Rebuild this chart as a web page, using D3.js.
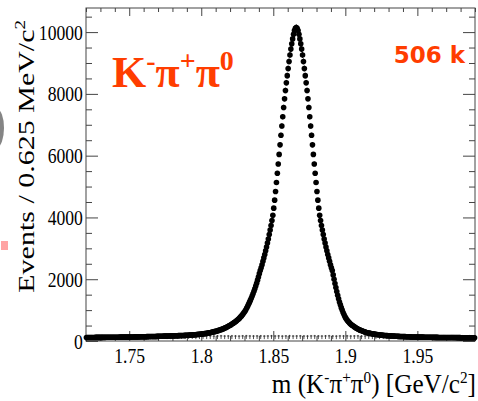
<!DOCTYPE html>
<html><head><meta charset="utf-8">
<script src="https://cdn.jsdelivr.net/npm/d3@7"></script>
<style>body{margin:0;background:#fff} svg{display:block}</style>
</head><body><svg id="c" width="478" height="401"></svg>
<script>
// ---- data ----
const massRange = [1.72, 1.99];
const binWidth = 0.000625; // GeV (0.625 MeV)
// counts per bin, low-mass side up to the bin before the peak
const countsLow = [113,113,114,114,114,114,115,115,115,115,116,116,116,116,117,117,117,117,118,118,118,118,119,119,119,120,120,120,121,121,121,122,122,122,123,123,123,124,124,124,125,
125,125,126,126,127,127,128,128,129,129,130,131,131,132,133,133,134,135,135,136,137,137,138,139,139,140,141,141,142,143,143,144,
144,145,146,147,148,149,150,151,152,153,154,155,156,157,158,159,160,161,162,163,164,165,166,167,168,169,170,171,172,173,174,175,
176,177,179,180,182,183,185,186,188,190,192,194,196,198,200,202,
204,207,210,213,216,219,222,226,230,234,238,242,247,252,257,263,268,275,281,288,295,302,310,318,326,335,344,354,364,375,386,398,410,424,438,452,468,485,500,518,535,555,575,595,615,638,660,685,710,740,775,805,840,880,920,965,1010,1065,1125,1190,1250,1315,1380,1455,1530,1610,1690,1780,1870,1970,2070,2180,2280,2370,2470,2580,2690,2800,2920,3040,3170,3300,3450,3590,3740,3900,4070,4300,4560,4840,5130,5430,5730,6040,6350,6660,6960,7260,7560,7840,8110,8360,8590,8820,9050,9260,9450,9620,9780,9930,10050,10120];
// counts per bin, from the peak bin to the high-mass end
const countsHigh = [10150,10120,10050,9930,9780,9620,9450,9260,9050,8820,8590,8360,8110,7840,7560,7260,6960,6660,6350,6040,5730,5430,5130,4840,4560,4300,4070,3900,3740,3590,3450,3300,3170,3040,2920,2800,2690,2580,2470,2370,2280,
2140,2000,1860,1730,1600,1480,1370,1260,1170,1080,1000,925,855,795,740,695,655,620,590,560,535,510,490,470,450,430,412,396,380,366,352,340,328,316,305,294,284,275,267,260,
254,248,242,237,232,227,222,216,212,208,204,200,196,192,189,185,183,180,178,176,
174,172,170,168,166,164,162,160,158,156,154,152,
150,149,148,147,146,145,144,143,141,140,139,138,136,134,132,130,
130,129,129,128,128,127,127,126,126,125,125,124,124,123,123,122,122,121,121,120,120,119,119,118,118,117,117,116,116,115,115,115,
115,114,114,114,113,113,113,112,112,112,111,111,111,110,110,110,109,109,109,108,108,108,107,107,107,106,106,106,106,105,105,105,105,105,104,104,104,104];
// background (small hatched histogram) in 2.5 MeV bins
const bkgBinWidth = 0.0025;
const bkgCounts = [126,131,124,129,133,127,122,130,128,125,132,127,129,124,130,134,126,128,131,123,
129,133,127,125,130,128,132,126,129,131,124,128,133,127,130,125,129,132,126,128,
131,127,124,130,133,128,126,129,131,125,128,132,127,130,124,129,133,126,128,131,
127,125,130,132,128,126,129,133,127,124,130,128,131,126,129,132,125,128,130,127,
133,126,129,124,131,128,127,130,132,125,129,126,131,128,124,130,127,133,128,126,
129,131,125,128,130,127,132,126];
const yMax = 10780;
const yMajorTicks = [0,2000,4000,6000,8000,10000];
const yMinorStep = 500;
const xMajorTicks = [1.75,1.8,1.85,1.9,1.95];
const xTickLabels = ["1.75","1.8","1.85","1.9","1.95"];
const xMinorStep = 0.01;
const yieldLabel = "506 k";

// ---- layout ----
const L = 86, R = 475, T = 8, B = 341;
const red = "#ff3d00";
const serif = "'Liberation Serif','Times New Roman',serif";
const squeeze = 0.8;

const svg = d3.select("#c");
const x = d3.scaleLinear().domain(massRange).range([L, R]);
const y = d3.scaleLinear().domain([0, yMax]).range([B, T]);

// edge artifacts from neighbouring panel
svg.append("ellipse").attr("cx", -3).attr("cy", 128).attr("rx", 7).attr("ry", 19).attr("fill", "#666").attr("opacity", 0.8);
svg.append("rect").attr("x", 1).attr("y", 241).attr("width", 7).attr("height", 9).attr("fill", "#ff6666").attr("opacity", 0.6);

const yMinor = d3.range(0, yMax, yMinorStep).filter(v => !yMajorTicks.includes(v));
const xMinor = d3.range(1.72, 1.99 + 1e-9, xMinorStep).map(v => +v.toFixed(3)).filter(v => !xMajorTicks.some(t => Math.abs(t - v) < 1e-6));

const axStyle = g => { g.select(".domain").remove(); g.selectAll("line").attr("stroke", "#444"); };
const labStyle = g => g.selectAll("text").attr("font-family", serif).attr("font-size", 22).attr("fill", "#000")
  .attr("transform", `scale(${squeeze},1)`);

// frame
svg.append("rect").attr("x", L).attr("y", T).attr("width", R - L).attr("height", B - T)
  .attr("fill", "none").attr("stroke", "#444").attr("stroke-width", 1);

// left axis
svg.append("g").attr("transform", `translate(${L},0)`)
  .call(d3.axisLeft(y).tickValues(yMajorTicks).tickSize(-12).tickPadding(4).tickFormat(d3.format("d")))
  .call(axStyle).call(labStyle);
svg.append("g").attr("transform", `translate(${L},0)`)
  .call(d3.axisLeft(y).tickValues(yMinor).tickSize(-6).tickFormat(""))
  .call(axStyle);
// right axis ticks
svg.append("g").attr("transform", `translate(${R},0)`)
  .call(d3.axisRight(y).tickValues(yMajorTicks).tickSize(-12).tickFormat(""))
  .call(axStyle);
svg.append("g").attr("transform", `translate(${R},0)`)
  .call(d3.axisRight(y).tickValues(yMinor).tickSize(-6).tickFormat(""))
  .call(axStyle);
// bottom axis
svg.append("g").attr("transform", `translate(0,${B})`)
  .call(d3.axisBottom(x).tickValues(xMajorTicks).tickSize(-10).tickPadding(6).tickFormat((d, i) => xTickLabels[i]))
  .call(axStyle).call(labStyle);
svg.append("g").attr("transform", `translate(0,${B})`)
  .call(d3.axisBottom(x).tickValues(xMinor).tickSize(-5).tickFormat(""))
  .call(axStyle);
// top axis ticks
svg.append("g").attr("transform", `translate(0,${T})`)
  .call(d3.axisTop(x).tickValues(xMajorTicks).tickSize(-8).tickFormat(""))
  .call(axStyle);
svg.append("g").attr("transform", `translate(0,${T})`)
  .call(d3.axisTop(x).tickValues(xMinor).tickSize(-4).tickFormat(""))
  .call(axStyle);

// background histogram marks
const bkg = bkgCounts.map((c, j) => ({ m: massRange[0] + (j + 0.5) * bkgBinWidth, c }));
const gb = svg.append("g").attr("stroke", "#222").attr("stroke-width", 0.8);
gb.selectAll("line.v").data(bkg).join("line").attr("class", "v")
  .attr("x1", d => x(d.m)).attr("x2", d => x(d.m))
  .attr("y1", d => y(d.c) - 2).attr("y2", d => y(d.c) + 2);
gb.selectAll("line.h").data(bkg).join("line").attr("class", "h")
  .attr("x1", d => x(d.m) - 1.2).attr("x2", d => x(d.m) + 1.2)
  .attr("y1", d => y(d.c) - 1).attr("y2", d => y(d.c) - 1);

// signal data points with error bars
const counts = countsLow.concat(countsHigh);
const pts = counts.map((c, i) => ({ m: massRange[0] + (i + 0.5) * binWidth, c }));
const gp = svg.append("g");
gp.selectAll("line").data(pts).join("line")
  .attr("x1", d => x(d.m)).attr("x2", d => x(d.m))
  .attr("y1", d => y(d.c + Math.sqrt(d.c))).attr("y2", d => y(d.c - Math.sqrt(d.c)))
  .attr("stroke", "#000").attr("stroke-width", 1);
gp.selectAll("circle").data(pts).join("circle")
  .attr("cx", d => x(d.m)).attr("cy", d => y(d.c)).attr("r", 2.8).attr("fill", "#000");

// axis titles
const yt = svg.append("text").attr("transform", `translate(34,20) scale(${squeeze},1) rotate(-90)`)
  .attr("text-anchor", "end").attr("font-family", serif).attr("font-size", 30).attr("fill", "#000");
yt.append("tspan").text("Events / 0.625 MeV/c");
yt.append("tspan").attr("font-size", 19).attr("dy", -11).text("2");

const xt = svg.append("text").attr("transform", "translate(476,393) scale(0.9,1)")
  .attr("text-anchor", "end").attr("font-family", serif).attr("font-size", 28).attr("fill", "#000");
xt.append("tspan").text("m (K");
xt.append("tspan").attr("font-size", 17).attr("dy", -10).text("-");
xt.append("tspan").attr("dy", 10).text("π");
xt.append("tspan").attr("font-size", 17).attr("dy", -10).text("+");
xt.append("tspan").attr("dy", 10).text("π");
xt.append("tspan").attr("font-size", 17).attr("dy", -10).text("0");
xt.append("tspan").attr("dy", 10).text(") [GeV/c");
xt.append("tspan").attr("font-size", 17).attr("dy", -10).text("2");
xt.append("tspan").attr("dy", 10).text("]");

// decay label
const dl = svg.append("text").attr("x", 112).attr("y", 87)
  .attr("font-family", serif).attr("font-weight", "bold").attr("font-size", 44).attr("fill", red);
dl.append("tspan").text("K");
dl.append("tspan").attr("font-size", 28).attr("dy", -17).text("-");
dl.append("tspan").attr("dy", 17).text("π");
dl.append("tspan").attr("font-size", 28).attr("dy", -17).text("+");
dl.append("tspan").attr("dy", 17).text("π");
dl.append("tspan").attr("font-size", 28).attr("dy", -17).text("0");

svg.append("text").attr("x", 465).attr("y", 63).attr("text-anchor", "end")
  .attr("font-family", "'DejaVu Sans',sans-serif").attr("font-weight", "bold").attr("font-size", 23)
  .attr("fill", red).text(yieldLabel);
</script></body></html>
